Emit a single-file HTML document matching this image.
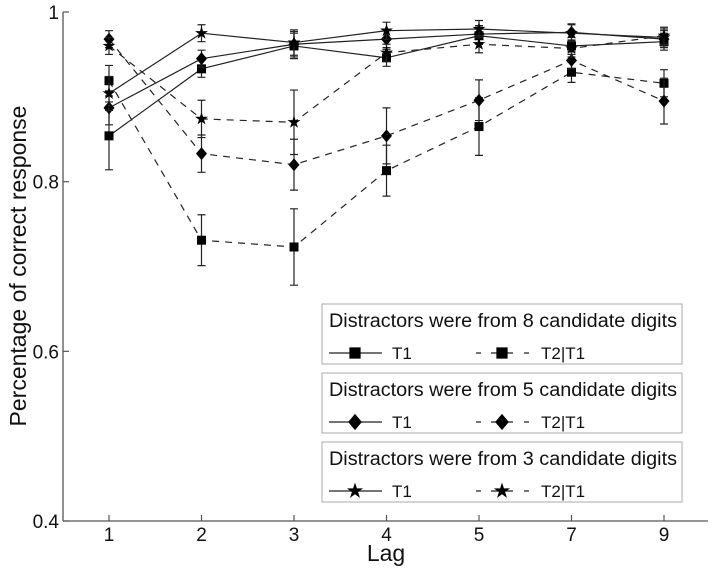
<!DOCTYPE html>
<html><head><meta charset="utf-8"><style>
html,body{margin:0;padding:0;background:#fff;}
svg{display:block;font-family:"Liberation Sans",Arial,sans-serif;}
</style></head><body>
<svg id="chart" width="714" height="573" viewBox="0 0 714 573" xmlns="http://www.w3.org/2000/svg">
<g id="axes"></g>
<g id="series"></g>
<g id="legend"></g>
</svg>
<script>
const lags = ["1","2","3","4","5","7","9"];
const yTicks = [0.4, 0.6, 0.8, 1];
const yTickLabels = ["0.4","0.6","0.8","1"];
const t1Of8 = [0.854, 0.933, 0.960, 0.946, 0.972, 0.960, 0.965];
const t1Of8Err = [0.040, 0.010, 0.015, 0.010, 0.010, 0.010, 0.010];
const t2Of8 = [0.919, 0.731, 0.723, 0.813, 0.865, 0.929, 0.916];
const t2Of8Err = [0.018, 0.030, 0.045, 0.030, 0.034, 0.012, 0.016];
const t1Of5 = [0.887, 0.945, 0.962, 0.968, 0.974, 0.976, 0.968];
const t1Of5Err = [0.020, 0.010, 0.015, 0.010, 0.010, 0.010, 0.010];
const t2Of5 = [0.968, 0.833, 0.820, 0.854, 0.896, 0.943, 0.895];
const t2Of5Err = [0.010, 0.022, 0.030, 0.033, 0.024, 0.010, 0.027];
const t1Of3 = [0.904, 0.975, 0.964, 0.978, 0.980, 0.975, 0.970];
const t1Of3Err = [0.020, 0.010, 0.015, 0.010, 0.010, 0.010, 0.010];
const t2Of3 = [0.960, 0.874, 0.870, 0.952, 0.962, 0.957, 0.972];
const t2Of3Err = [0.010, 0.022, 0.038, 0.010, 0.010, 0.010, 0.010];

const NS="http://www.w3.org/2000/svg";
const X0=63, X1=708, Y0=521, Y1=12;
const xPos = i => 109 + i*92.5;
const yPos = v => Y0 - (v-0.4)/0.6*(Y0-Y1);
function mk(tag, attrs, parent){const e=document.createElementNS(NS,tag);for(const k in attrs)e.setAttribute(k,attrs[k]);parent.appendChild(e);return e;}
const axes=document.getElementById('axes');
let a=mk('line',{x1:X0,y1:Y1,x2:X0,y2:Y0,stroke:'#555','stroke-width':1.3},axes);


a=mk('line',{x1:X0,y1:Y0,x2:X1,y2:Y0,stroke:'#555','stroke-width':1.3},axes);


yTicks.forEach((v,i)=>{const y=yPos(v);
 const t=mk('line',{x1:X0,y1:y,x2:X0+6,y2:y,stroke:'#555','stroke-width':1.2},axes);
 
 
 const l=mk('text',{x:X0-4,y:y+7,'text-anchor':'end','font-size':19,fill:'#111'},axes);l.textContent=yTickLabels[i];
 
 
});
lags.forEach((c,i)=>{const x=xPos(i);
 const t=mk('line',{x1:x,y1:Y0,x2:x,y2:Y0-6,stroke:'#555','stroke-width':1.2},axes);
 
 
 const l=mk('text',{x:x,y:Y0+20,'text-anchor':'middle','font-size':19,fill:'#111'},axes);l.textContent=c;
 
 
});
let tt=mk('text',{x:386,y:561,'text-anchor':'middle','font-size':23,fill:'#111'},axes);tt.textContent='Lag';


tt=mk('text',{x:0,y:0,'text-anchor':'middle','font-size':23,fill:'#111',transform:'translate(26,266) rotate(-90)'},axes);tt.textContent='Percentage of correct response';



function marker(type,x,y,parent,s){
 s=s||1;
 if(type==='square') return mk('rect',{x:x-4.5*s,y:y-4.5*s,width:9*s,height:9*s,fill:'#000'},parent);
 if(type==='diamond') return mk('polygon',{points:`${x},${y-6.5*s} ${x+5.5*s},${y} ${x},${y+6.5*s} ${x-5.5*s},${y}`,fill:'#000'},parent);
 let p=[];for(let k=0;k<10;k++){const r=(k%2?2.6:6.8)*s;const ang=-Math.PI/2+k*Math.PI/5;p.push((x+r*Math.cos(ang)).toFixed(2)+','+(y+r*Math.sin(ang)).toFixed(2));}
 return mk('polygon',{points:p.join(' '),fill:'#000'},parent);
}
const seriesDefs=[
 ['t1-8-candidates',t1Of8,t1Of8Err,'square',false],
 ['t2-8-candidates',t2Of8,t2Of8Err,'square',true],
 ['t1-5-candidates',t1Of5,t1Of5Err,'diamond',false],
 ['t2-5-candidates',t2Of5,t2Of5Err,'diamond',true],
 ['t1-3-candidates',t1Of3,t1Of3Err,'star',false],
 ['t2-3-candidates',t2Of3,t2Of3Err,'star',true]];
const sg=document.getElementById('series');
seriesDefs.forEach(([name,vals,errs,type,dashed])=>{
 const g=mk('g',{},sg);
 
 
 const pts=vals.map((v,i)=>xPos(i)+','+yPos(v)).join(' ');
 const pl=mk('polyline',{points:pts,fill:'none',stroke:'#222','stroke-width':1.2,'stroke-dasharray':dashed?'7,6':'none'},g);
 
 
 vals.forEach((v,i)=>{const x=xPos(i),yt=yPos(v+errs[i]),yb=yPos(v-errs[i]);
  const eb=mk('path',{d:`M${x},${yt}V${yb}M${x-4},${yt}H${x+4}M${x-4},${yb}H${x+4}`,stroke:'#222','stroke-width':1.2,fill:'none'},g);
  
  
  const m=marker(type,x,yPos(v),g);
  
  
 });
});
const lg=document.getElementById('legend');
const boxes=[['8','square',304],['5','diamond',373],['3','star',442]];
boxes.forEach(([n,type,top])=>{
 const g=mk('g',{},lg);
 
 
 mk('rect',{x:322,y:top,width:360,height:60,fill:'#fff',stroke:'#aaa','stroke-width':1},g);
 const t=mk('text',{x:329,y:top+23,'font-size':19,fill:'#111',textLength:348,lengthAdjust:'spacingAndGlyphs'},g);t.textContent='Distractors were from '+n+' candidate digits';
 
 
 const ly=top+49;
 mk('line',{x1:329,y1:ly,x2:382,y2:ly,stroke:'#222','stroke-width':1.2},g);
 marker(type,355,ly,g,1.25);
 let l=mk('text',{x:392,y:ly+6,'font-size':17,fill:'#111'},g);l.textContent='T1';
 
 
 mk('path',{d:`M476,${ly}H481M491,${ly}H513M524,${ly}H529`,stroke:'#222','stroke-width':1.2},g);
 marker(type,502,ly,g,1.25);
 l=mk('text',{x:541,y:ly+6,'font-size':17,fill:'#111'},g);l.textContent='T2|T1';
 
 
});
</script>
</body></html>
